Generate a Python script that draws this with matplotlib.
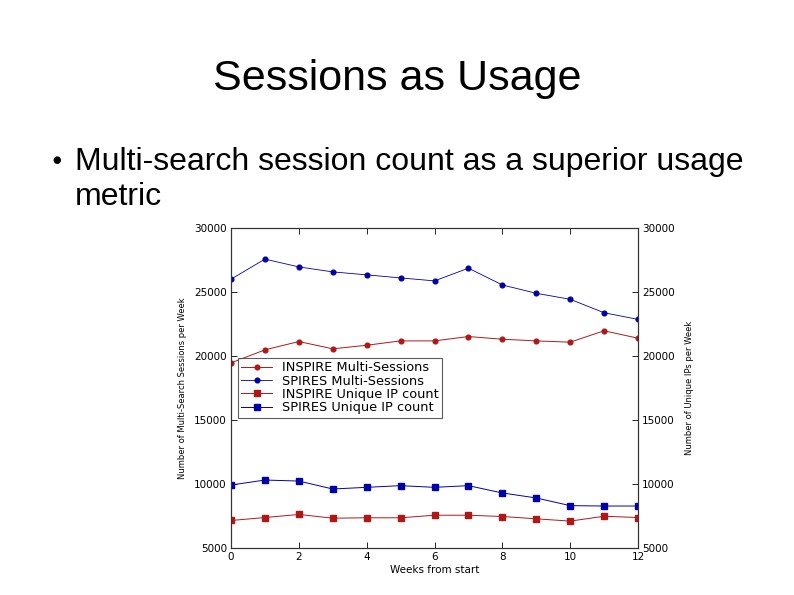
import matplotlib
matplotlib.use('Agg')
import matplotlib.pyplot as plt

weeks = list(range(13))
inspire_multi = [19460, 20480, 21130, 20560, 20840, 21180, 21180, 21520, 21310, 21180, 21080, 21970, 21390]
spires_multi = [26000, 27570, 26960, 26570, 26340, 26100, 25870, 26860, 25550, 24900, 24430, 23380, 22860]
inspire_ips = [7150, 7380, 7620, 7330, 7360, 7360, 7560, 7560, 7460, 7280, 7100, 7480, 7380]
spires_ips = [9920, 10310, 10230, 9610, 9740, 9870, 9740, 9870, 9300, 8910, 8310, 8280, 8280]

yticks = [5000, 10000, 15000, 20000, 25000, 30000]
xticks = [0, 2, 4, 6, 8, 10, 12]

red = '#b01818'
blue = '#0000a8'

fig = plt.figure(figsize=(7.94, 5.95), dpi=100)
fig.patch.set_facecolor('white')

# slide text
fig.text(0.5, 1 - 90 / 595, 'Sessions as Usage', ha='center', va='baseline',
         fontsize=31, family='Liberation Sans')
fig.text(57 / 794, 1 - 160 / 595, '\u25cf', ha='center', va='center',
         fontsize=7, family='DejaVu Sans')
fig.text(75 / 794, 1 - 170 / 595, 'Multi-search session count as a superior usage',
         ha='left', va='baseline', fontsize=23, family='Liberation Sans')
fig.text(75 / 794, 1 - 205 / 595, 'metric',
         ha='left', va='baseline', fontsize=23, family='Liberation Sans')

ax = fig.add_axes([231 / 794, 47 / 595, 407 / 794, 320 / 595])
ax2 = ax.twinx()

ax.plot(weeks, inspire_multi, '-o', color=red, lw=0.7, ms=3.4, mec=red,
        label='INSPIRE Multi-Sessions')
ax.plot(weeks, spires_multi, '-o', color=blue, lw=0.6, ms=3.4, mec=blue,
        label='SPIRES Multi-Sessions')
ax2.plot(weeks, inspire_ips, '-s', color=red, lw=0.7, ms=3.8, mec=red,
         label='INSPIRE Unique IP count')
ax2.plot(weeks, spires_ips, '-s', color=blue, lw=0.7, ms=3.8, mec=blue,
         label='SPIRES Unique IP count')

for a in (ax, ax2):
    a.set_ylim(5000, 30000)
    a.set_yticks(yticks)
    a.set_xlim(0, 12)
    for s in a.spines.values():
        s.set_linewidth(0.8)
        s.set_color('#333333')

ax.set_xticks(xticks)
ax.tick_params(direction='in', length=4, width=0.6, labelsize=7.5, top=True, pad=3)
ax2.tick_params(direction='in', length=4, width=0.6, labelsize=7.5, pad=3)

ax.set_xlabel('Weeks from start', fontsize=7.5, labelpad=2)
ax.set_ylabel('Number of Multi-Search Sessions per Week', fontsize=6, labelpad=5)
ax2.set_ylabel('Number of Unique IPs per Week', fontsize=6, labelpad=7)

h1, l1 = ax.get_legend_handles_labels()
h2, l2 = ax2.get_legend_handles_labels()
leg = ax2.legend(h1 + h2, l1 + l2, loc='upper left', bbox_to_anchor=(0.017, 0.594),
                 fontsize=9.3, frameon=True, fancybox=False, borderpad=0.25,
                 labelspacing=0.03, handlelength=2.4, handletextpad=0.8,
                 borderaxespad=0)
leg.get_frame().set_edgecolor('#333333')
leg.get_frame().set_linewidth(0.8)

fig.savefig('out.png', dpi=100, facecolor='white')
